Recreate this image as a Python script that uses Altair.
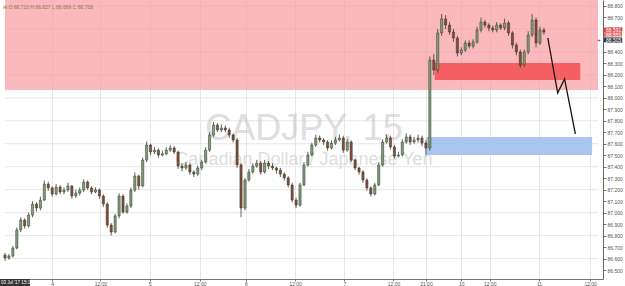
import altair as alt
import pandas as pd

# hourly candles (x index = hour slot)
closes = [86.605, 86.622, 86.692, 86.849, 86.936, 86.884, 86.979, 87.075, 87.040, 87.110,
          87.249, 87.215, 87.162, 87.223, 87.180, 87.197, 87.232, 87.145, 87.171, 87.197,
          87.267, 87.215, 87.180, 87.197, 87.145, 87.075, 86.892, 86.831, 86.971, 87.145,
          87.005, 87.058, 87.197, 87.319, 87.232, 87.458, 87.589, 87.528, 87.545, 87.502,
          87.511, 87.545, 87.563, 87.528, 87.406, 87.389, 87.415, 87.354, 87.336, 87.389,
          87.441, 87.545, 87.676, 87.763, 87.720, 87.737, 87.720, 87.676, 87.633, 87.415,
          87.040, 87.284, 87.354, 87.406, 87.432, 87.354, 87.432, 87.406, 87.389, 87.371,
          87.336, 87.302, 87.241, 87.110, 87.066, 87.241, 87.415, 87.502, 87.589, 87.650,
          87.633, 87.615, 87.563, 87.606, 87.633, 87.650, 87.545, 87.615, 87.458, 87.389,
          87.354, 87.284, 87.215, 87.162, 87.241, 87.415, 87.615, 87.650, 87.572, 87.493,
          87.502, 87.615, 87.659, 87.615, 87.633, 87.650, 87.606, 87.563, 88.329, 88.242,
          88.565, 88.687, 88.634, 88.573, 88.521, 88.390, 88.416, 88.477, 88.451, 88.486,
          88.591, 88.660, 88.634, 88.608, 88.591, 88.634, 88.608, 88.652, 88.565, 88.460,
          88.399, 88.286, 88.399, 88.547, 88.678, 88.477, 88.591, 88.573]
highs = [86.650, 86.640, 86.710, 86.870, 86.960, 86.950, 87.000, 87.100, 87.090, 87.140,
         87.280, 87.270, 87.230, 87.250, 87.240, 87.220, 87.260, 87.240, 87.200, 87.220,
         87.290, 87.280, 87.230, 87.220, 87.210, 87.160, 87.090, 86.910, 86.990, 87.170,
         87.160, 87.080, 87.220, 87.350, 87.330, 87.480, 87.620, 87.600, 87.570, 87.560,
         87.540, 87.570, 87.590, 87.580, 87.540, 87.430, 87.440, 87.430, 87.370, 87.410,
         87.460, 87.570, 87.700, 87.790, 87.780, 87.770, 87.760, 87.740, 87.690, 87.650,
         87.430, 87.300, 87.380, 87.430, 87.460, 87.450, 87.460, 87.450, 87.430, 87.400,
         87.390, 87.350, 87.320, 87.260, 87.130, 87.260, 87.440, 87.530, 87.610, 87.680,
         87.670, 87.650, 87.630, 87.630, 87.660, 87.680, 87.670, 87.640, 87.630, 87.470,
         87.400, 87.370, 87.300, 87.230, 87.260, 87.440, 87.640, 87.680, 87.670, 87.590,
         87.530, 87.640, 87.690, 87.680, 87.660, 87.680, 87.670, 87.630, 88.360, 88.380,
         88.600, 88.730, 88.720, 88.660, 88.600, 88.540, 88.440, 88.500, 88.500, 88.510,
         88.620, 88.700, 88.680, 88.650, 88.630, 88.660, 88.650, 88.690, 88.670, 88.580,
         88.480, 88.420, 88.420, 88.580, 88.730, 88.700, 88.620, 88.610]
lows = [86.580, 86.590, 86.610, 86.680, 86.830, 86.860, 86.870, 86.960, 87.010, 87.020,
        87.100, 87.190, 87.140, 87.150, 87.160, 87.160, 87.180, 87.120, 87.130, 87.150,
        87.180, 87.200, 87.160, 87.170, 87.120, 87.050, 86.870, 86.800, 86.820, 86.950,
        86.990, 86.990, 87.040, 87.180, 87.200, 87.220, 87.440, 87.500, 87.510, 87.480,
        87.490, 87.500, 87.530, 87.510, 87.380, 87.360, 87.370, 87.330, 87.310, 87.320,
        87.370, 87.430, 87.530, 87.660, 87.700, 87.700, 87.700, 87.650, 87.610, 87.390,
        86.960, 87.020, 87.270, 87.340, 87.390, 87.330, 87.340, 87.380, 87.370, 87.340,
        87.310, 87.280, 87.220, 87.090, 87.040, 87.050, 87.230, 87.400, 87.490, 87.570,
        87.610, 87.590, 87.540, 87.550, 87.590, 87.620, 87.520, 87.530, 87.440, 87.370,
        87.330, 87.260, 87.190, 87.140, 87.150, 87.230, 87.400, 87.600, 87.550, 87.470,
        87.480, 87.490, 87.600, 87.590, 87.600, 87.610, 87.580, 87.500, 87.540, 88.200,
        88.220, 88.540, 88.600, 88.550, 88.490, 88.360, 88.370, 88.400, 88.430, 88.430,
        88.470, 88.570, 88.610, 88.580, 88.570, 88.570, 88.590, 88.590, 88.540, 88.430,
        88.370, 88.260, 88.270, 88.380, 88.530, 88.440, 88.460, 88.550]
first_open = 86.630

tick_pos = [12, 24.25, 36.75, 49.5, 61.25, 73.75, 86.25, 98.75, 107, 116, 123.25, 135.75, 148.75]
tick_lab = ["4", "12:00", "5", "12:00", "6", "12:00", "7", "12:00", "21:00", "10", "12:00", "11", "12:00"]
price_ticks = [86.5, 86.6, 86.7, 86.8, 86.9, 87.0, 87.1, 87.2, 87.3, 87.4, 87.5, 87.6,
               87.7, 87.8, 87.9, 88.0, 88.1, 88.2, 88.3, 88.4, 88.5, 88.6, 88.7, 88.8]
grid_prices = [86.6, 86.8, 87.0, 87.2, 87.4, 87.6, 87.8, 88.0, 88.2, 88.4, 88.6, 88.8]

zone_names = ["supply", "entry", "demand"]
zone_x1 = [0, 109.25, 107]
zone_x2 = [150.75, 146.25, 149.25]
zone_lo = [88.068, 88.155, 87.502]
zone_hi = [88.90, 88.303, 87.659]
zone_col = ["#f7989c", "#f4585e", "#a6c2f0"]
zone_op = [0.68, 0.95, 0.95]

proj_x = [138, 140.5, 142.25, 145]
proj_p = [88.521, 88.042, 88.164, 87.685]

tag_p = [88.591, 88.551, 88.505]
tag_txt = ["88.591", "88.551", "88.505"]
tag_col = ["#e04848", "#e86a6a", "#2f3a40"]

XMAX = 150.75
YMIN, YMAX = 86.422, 88.852

opens = [first_open] + closes[:-1]
candles = pd.DataFrame({
    "t": list(range(len(closes))),
    "open": opens, "close": closes, "high": highs, "low": lows,
})
candles["up"] = candles["close"] >= candles["open"]

xs = alt.Scale(domain=[0, XMAX], nice=False, zero=False)
ys = alt.Scale(domain=[YMIN, YMAX], nice=False, zero=False)

label_expr = "{" + ",".join(f"'{p}':'{l}'" for p, l in zip(tick_pos, tick_lab)) + "}[datum.value]"

X_AXIS = alt.Axis(values=tick_pos, labelExpr=label_expr, title=None,
                  grid=True, gridColor="#e6e6e6", labelFontSize=5,
                  labelColor="#555555", labelFont="Liberation Sans",
                  tickSize=2, tickColor="#777777", domainColor="#777777",
                  labelPadding=0, labelFlush=False, labelOverlap=False)
Y_AXIS = alt.Axis(orient="right", values=price_ticks, format=".3f", title=None,
                  grid=False, labelFontSize=5, labelOverlap=False, labelBound=False,
                  labelColor="#555555", labelFont="Liberation Sans",
                  tickSize=3, tickColor="#777777", domainColor="#666666",
                  labelPadding=1)


def X(field):
    return alt.X(field, scale=xs, axis=X_AXIS)


def Y(field):
    return alt.Y(field, scale=ys, axis=Y_AXIS)


grid_df = pd.DataFrame({"p": grid_prices, "a": [0.0] * len(grid_prices), "b": [XMAX] * len(grid_prices)})
grid_layer = alt.Chart(grid_df).mark_rule(color="#e6e6e6", strokeWidth=1).encode(
    x=X("a:Q"), x2="b:Q", y=Y("p:Q"))

zones = pd.DataFrame({"name": zone_names, "x1": zone_x1, "x2": zone_x2,
                      "lo": zone_lo, "hi": zone_hi, "col": zone_col, "op": zone_op})
zone_layer = alt.Chart(zones).mark_rect().encode(
    x=X("x1:Q"), x2="x2:Q", y=Y("lo:Q"), y2="hi:Q",
    color=alt.Color("col:N", scale=None),
    opacity=alt.Opacity("op:Q", scale=None),
)

wm = pd.DataFrame({"t": [76.0, 76.0], "p": [87.633, 87.413],
                   "txt": ["CADJPY, 15", "Canadian Dollar / Japanese Yen"],
                   "fs": [36, 18]})
wm_layer = alt.Chart(wm).mark_text(font="Liberation Sans", color="#c4c4c4", opacity=0.55,
                                   baseline="alphabetic", align="center").encode(
    x=X("t:Q"), y=Y("p:Q"), text="txt:N",
    size=alt.Size("fs:Q", scale=None))

wick_layer = alt.Chart(candles).mark_rule(color="#3a3d30", strokeWidth=0.8).encode(
    x=X("t:Q"), y=Y("low:Q"), y2="high:Q")

candle_layer = alt.Chart(candles).mark_bar(width=2.2, stroke="#2e3a2a", strokeWidth=0.5).encode(
    x=X("t:Q"), y=Y("open:Q"), y2="close:Q",
    color=alt.condition("datum.up", alt.value("#7f9f78"), alt.value("#8a4a3a")),
)

proj = pd.DataFrame({"t": proj_x, "p": proj_p, "o": list(range(len(proj_x)))})
proj_layer = alt.Chart(proj).mark_line(color="#111111", strokeWidth=1.3).encode(
    x=X("t:Q"), y=Y("p:Q"), order="o:O")

tags = pd.DataFrame({"p": tag_p, "txt": tag_txt, "col": tag_col})
tags["hi"] = tags["p"] + 0.021
tags["lo"] = tags["p"] - 0.021
tag_rect = alt.Chart(tags).mark_rect().encode(
    x=alt.value(604), x2=alt.value(622),
    y=Y("hi:Q"), y2="lo:Q",
    color=alt.Color("col:N", scale=None))
tag_text = alt.Chart(tags).mark_text(fontSize=5, color="white", font="Liberation Sans",
                                     align="left", baseline="middle").encode(
    x=alt.value(606), y=Y("p:Q"), text="txt:N")
plus_df = pd.DataFrame({"p": [tag_p[2]], "txt": ["+"]})
plus_layer = alt.Chart(plus_df).mark_text(fontSize=6, color="#333333", font="Liberation Sans",
                                          align="center", baseline="middle").encode(
    x=alt.value(599), y=Y("p:Q"), text="txt:N")

hdr = pd.DataFrame({"txt": ["⊟ O 86.710 H 86.827 L 86.669 C 86.708"]})
hdr_layer = alt.Chart(hdr).mark_text(fontSize=5, color="#8a7a50", font="Liberation Sans",
                                     align="left", baseline="middle").encode(
    x=alt.value(3), y=alt.value(7), text="txt:N")

foot = pd.DataFrame({"txt": ["03 Jul '17 15:15"]})
foot_rect = alt.Chart(foot).mark_rect(color="#333333").encode(
    x=alt.value(0), x2=alt.value(30), y=alt.value(279), y2=alt.value(286))
foot_text = alt.Chart(foot).mark_text(fontSize=4.5, color="white", font="Liberation Sans",
                                      align="left", baseline="middle").encode(
    x=alt.value(1), y=alt.value(282.5), text="txt:N")

chart = alt.layer(grid_layer, zone_layer, wm_layer, wick_layer, candle_layer, proj_layer,
                  tag_rect, tag_text, plus_layer, hdr_layer, foot_rect, foot_text).properties(
    width=603, height=279,
    padding={"left": 0, "top": 0, "right": 22, "bottom": 7},
    autosize=alt.AutoSizeParams(type="none"),
    background="white",
).configure_view(strokeWidth=0)

chart.save("out.html", embed_options={"renderer": "svg", "actions": False})
